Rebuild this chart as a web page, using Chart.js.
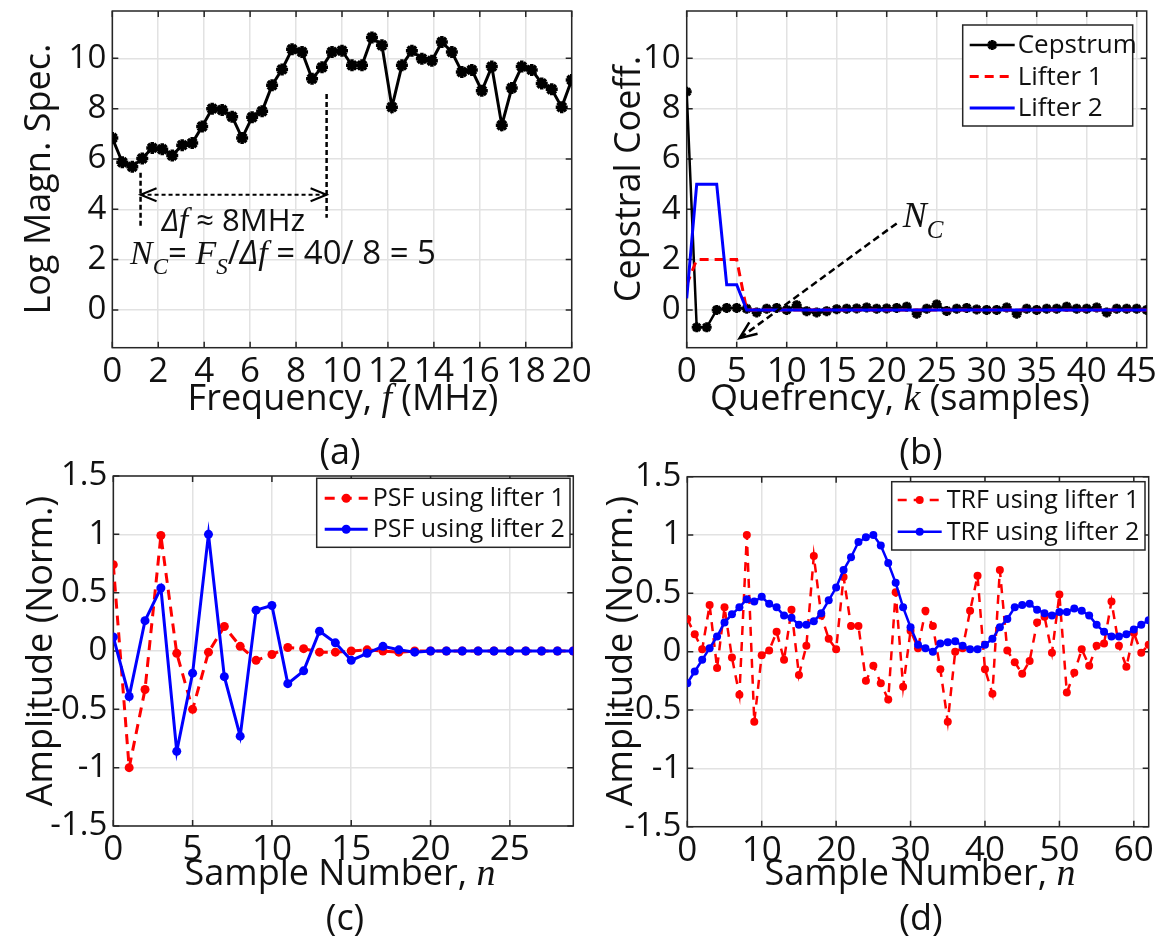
<!DOCTYPE html>
<html>
<head>
<meta charset="utf-8">
<script src="https://cdn.jsdelivr.net/npm/chart.js@4/dist/chart.umd.min.js"></script>
<style>
html, body { margin: 0; padding: 0; background: #fff; overflow: hidden; }
#fig { position: relative; width: 1165px; height: 939px; overflow: hidden; background: #fff; }
#fig canvas { position: absolute; }
</style>
</head>
<body>
<div id="fig">
  <canvas id="chartA" width="600" height="520" style="left:0px;top:-40px"></canvas>
  <canvas id="chartB" width="585" height="520" style="left:580px;top:-40px"></canvas>
  <canvas id="chartC" width="600" height="509" style="left:0px;top:430px"></canvas>
  <canvas id="chartD" width="585" height="509" style="left:580px;top:430px"></canvas>
</div>
<script>
// ---------------- data
// (a) log magnitude spectrum
const freqMHz = [0, 0.435, 0.870, 1.304, 1.739, 2.174, 2.609, 3.043, 3.478, 3.913, 4.348, 4.783, 5.217, 5.652, 6.087, 6.522,
  6.957, 7.391, 7.826, 8.261, 8.696, 9.130, 9.565, 10.0, 10.435, 10.870, 11.304, 11.739, 12.174, 12.609, 13.043, 13.478,
  13.913, 14.348, 14.783, 15.217, 15.652, 16.087, 16.522, 16.957, 17.391, 17.826, 18.261, 18.696, 19.130, 19.565, 20.0]
const logMagSpec = [6.83, 5.87, 5.69, 6.02, 6.44, 6.39, 6.14, 6.55, 6.63, 7.29, 8.0, 7.95, 7.68, 6.83, 7.66, 7.90,
  8.93, 9.56, 10.36, 10.25, 9.19, 9.64, 10.25, 10.3, 9.72, 9.72, 10.83, 10.52, 8.06, 9.72, 10.3, 9.98,
  9.9, 10.65, 10.25, 9.46, 9.54, 8.71, 9.67, 7.34, 8.82, 9.67, 9.54, 9.0, 8.77, 8.06, 9.14]

// (b) cepstrum and lifters, quefrency k = 0..46
const cepstrum = [8.67, -0.69, -0.69, 0.0, 0.08, 0.08, 0.05, -0.1, 0.05, 0.08, 0.0, 0.19, -0.05, -0.1, -0.05, 0.03,
  0.05, 0.06, 0.1, 0.05, 0.06, 0.08, 0.13, -0.15, 0.05, 0.22, -0.04, 0.05, 0.08, 0.02, 0.0, 0.0,
  0.1, -0.15, 0.05, 0.0, 0.05, 0.05, 0.13, 0.05, 0.05, 0.1, -0.1, 0.05, 0.05, 0.05, 0.0]
const lifter1 = [1, 2, 2, 2, 2, 2, 0, 0, 0, 0, 0, 0, 0, 0, 0, 0, 0, 0, 0, 0, 0, 0, 0, 0,
  0, 0, 0, 0, 0, 0, 0, 0, 0, 0, 0, 0, 0, 0, 0, 0, 0, 0, 0, 0, 0, 0, 0]
const lifter2 = [0.46, 5, 5, 5, 1, 1, 0, 0, 0, 0, 0, 0, 0, 0, 0, 0, 0, 0, 0, 0, 0, 0, 0, 0,
  0, 0, 0, 0, 0, 0, 0, 0, 0, 0, 0, 0, 0, 0, 0, 0, 0, 0, 0, 0, 0, 0, 0]

// (c) PSF, n = 0..29
const psfLifter1 = [0.74, -1.0, -0.33, 0.99, -0.02, -0.5, -0.01, 0.21, 0.04, -0.08, -0.03, 0.03, 0.02, -0.01, -0.01,
  0.0, 0.01, 0.0, -0.01, 0.0, 0, 0, 0, 0, 0, 0, 0, 0, 0, 0]
const psfLifter2 = [0.12, -0.39, 0.26, 0.54, -0.86, -0.19, 1.0, -0.22, -0.73, 0.35, 0.39, -0.28, -0.17, 0.17, 0.07,
  -0.08, -0.02, 0.04, 0.01, -0.01, 0, 0, 0, 0, 0, 0, 0, 0, 0, 0]

// (d) TRF, n = 0..62
const trfLifter1 = [0.28, 0.15, 0.02, 0.40, -0.14, 0.38, -0.05, -0.37, 1.0, -0.60, -0.03, 0.01, 0.17, -0.07, 0.36, -0.20,
  0.05, 0.82, 0.31, 0.11, 0.02, 0.64, 0.22, 0.22, -0.25, -0.12, -0.27, -0.41, 0.51, -0.30, 0.18, 0.03,
  0.35, 0.22, -0.15, -0.60, 0.0, 0.03, 0.35, 0.65, -0.15, -0.36, 0.70, 0.01, -0.09, -0.19, -0.08, 0.25,
  0.30, -0.01, 0.49, -0.35, -0.18, 0.02, -0.12, 0.05, 0.07, 0.43, 0.05, -0.13, 0.16, -0.01, 0.06]
const trfLifter2 = [-0.27, -0.17, -0.07, 0.03, 0.13, 0.25, 0.32, 0.38, 0.45, 0.43, 0.47, 0.41, 0.38, 0.31, 0.29, 0.23,
  0.23, 0.26, 0.33, 0.44, 0.55, 0.70, 0.81, 0.94, 0.98, 1.0, 0.91, 0.76, 0.59, 0.38, 0.21, 0.06,
  0.03, 0.0, 0.07, 0.08, 0.09, 0.05, 0.02, 0.02, 0.06, 0.11, 0.21, 0.28, 0.38, 0.40, 0.41, 0.36,
  0.33, 0.31, 0.34, 0.34, 0.37, 0.35, 0.31, 0.23, 0.17, 0.13, 0.13, 0.15, 0.19, 0.23, 0.27]

// tick values
const freqTicks = [0, 2, 4, 6, 8, 10, 12, 14, 16, 18, 20]
const magTicks = [0, 2, 4, 6, 8, 10]
const quefTicks = [0, 5, 10, 15, 20, 25, 30, 35, 40, 45]
const cepTicks = [0, 2, 4, 6, 8, 10]
const psfTicks = [0, 5, 10, 15, 20, 25]
const trfTicks = [0, 10, 20, 30, 40, 50, 60]
const ampTicks = [-1.5, -1, -0.5, 0, 0.5, 1, 1.5]

// ---------------- styles
const FONT = '"Open Sans", Lato, sans-serif'
const SERIF = '"Liberation Serif", "DejaVu Serif", serif'
const INK = '#111'
const AXIS = '#262626'
const GRID = '#e2e2e2'
const RED = '#ff0000'
const BLUE = '#0000ff'

Chart.defaults.font.family = FONT
Chart.defaults.color = INK

// text segments: sans, serif italic, sans italic, subscript
const sans = (t, size) => ({ t, font: size + 'px ' + FONT })
const ital = (t, size) => ({ t, font: 'italic ' + size + 'px ' + SERIF })
const italSans = (t, size) => ({ t, font: 'italic ' + size + 'px ' + FONT })
const sub = (t, size) => ({ t, font: 'italic ' + size + 'px ' + SERIF, dy: size * 0.45 })

const drawRich = (ctx, segs, x, y, align, rot) => {
    ctx.save()
    ctx.translate(x, y)
    if (rot) ctx.rotate(rot)
    let total = 0
    segs.forEach(s => { ctx.font = s.font; s.w = ctx.measureText(s.t).width; total += s.w })
    let cx = align === 'left' ? 0 : -total / 2
    ctx.fillStyle = INK
    ctx.textAlign = 'left'
    ctx.textBaseline = 'alphabetic'
    segs.forEach(s => {
        ctx.font = s.font
        ctx.fillText(s.t, cx, s.dy || 0)
        cx += s.w
    })
    ctx.restore()
}

const chevron = (ctx, tx, ty, fx, fy, len, half) => {
    // open arrow head at (tx,ty), pointing away from (fx,fy)
    const a = Math.atan2(ty - fy, tx - fx)
    ctx.save()
    ctx.setLineDash([])
    ctx.beginPath()
    ctx.moveTo(tx - len * Math.cos(a) - half * Math.sin(a), ty - len * Math.sin(a) + half * Math.cos(a))
    ctx.lineTo(tx, ty)
    ctx.lineTo(tx - len * Math.cos(a) + half * Math.sin(a), ty - len * Math.sin(a) - half * Math.cos(a))
    ctx.stroke()
    ctx.restore()
}

// box, inner ticks, legends, titles
const decorPlugin = {
    id: 'decor',
    beforeDatasetsDraw(chart, args, o) {
        const { ctx, chartArea: a, scales } = chart
        ctx.save()
        ctx.strokeStyle = AXIS
        ctx.lineWidth = 1.5
        ctx.beginPath()
        scales.x.ticks.forEach(t => {
            const p = scales.x.getPixelForValue(t.value)
            ctx.moveTo(p, a.bottom); ctx.lineTo(p, a.bottom - 6)
            ctx.moveTo(p, a.top); ctx.lineTo(p, a.top + 6)
        })
        scales.y.ticks.forEach(t => {
            const p = scales.y.getPixelForValue(t.value)
            ctx.moveTo(a.left, p); ctx.lineTo(a.left + 6, p)
            ctx.moveTo(a.right, p); ctx.lineTo(a.right - 6, p)
        })
        ctx.stroke()
        ctx.strokeRect(a.left, a.top, a.right - a.left, a.bottom - a.top)
        ctx.restore()
    },
    afterDatasetsDraw(chart, args, o) {
        const { ctx } = chart
        const [ox, oy] = o.offset
        if (o.annotate) o.annotate(chart)
        const lg = o.legend
        if (lg) {
            const x = lg.x - ox, y = lg.y - oy
            ctx.save()
            ctx.fillStyle = '#fff'
            ctx.fillRect(x, y, lg.w, lg.h)
            ctx.strokeStyle = AXIS
            ctx.lineWidth = 1.5
            ctx.strokeRect(x, y, lg.w, lg.h)
            lg.order.forEach((di, i) => {
                const ds = chart.data.datasets[di]
                const cy = y + lg.first + i * lg.step
                ctx.strokeStyle = ds.borderColor
                ctx.lineWidth = ds.borderWidth
                ctx.setLineDash(ds.borderDash || [])
                ctx.beginPath()
                ctx.moveTo(x + lg.x0, cy)
                ctx.lineTo(x + lg.x1, cy)
                ctx.stroke()
                ctx.setLineDash([])
                if (ds.pointRadius > 0) {
                    ctx.fillStyle = ds.pointBackgroundColor
                    ctx.strokeStyle = ds.pointBorderColor
                    ctx.lineWidth = ds.pointBorderWidth
                    Chart.helpers.drawPoint(ctx, { pointStyle: ds.pointStyle, radius: ds.pointRadius, borderWidth: ds.pointBorderWidth, rotation: 0 }, x + (lg.x0 + lg.x1) / 2, cy)
                }
                ctx.fillStyle = INK
                ctx.font = lg.size + 'px ' + FONT
                ctx.textAlign = 'left'
                ctx.textBaseline = 'middle'
                ctx.fillText(ds.label, x + lg.tx, cy + 1)
            })
            ctx.restore()
        }
    },
    afterDraw(chart, args, o) {
        const { ctx } = chart
        const [ox, oy] = o.offset
        drawRich(ctx, o.xTitle, o.xTitlePos[0] - ox, o.xTitlePos[1] - oy, 'center')
        drawRich(ctx, o.yTitle, o.yTitlePos[0] - ox, o.yTitlePos[1] - oy, 'center', -Math.PI / 2)
        drawRich(ctx, [sans(o.tag, 36)], o.tagPos[0] - ox, o.tagPos[1] - oy, 'center')
    }
}

// ---------------- helpers for axes
const TITLE = 36
const XT = 35
const YT = 33

const makeChart = (p) => {
    const el = document.getElementById(p.id)
    const [L, T, R, B] = p.area
    const xH = p.top + p.h - B
    const yW = L - p.left
    return new Chart(el.getContext('2d'), {
        type: 'line',
        data: { datasets: p.datasets },
        options: {
            responsive: false,
            animation: false,
            layout: { padding: { top: T - p.top, right: p.left + p.w - R, left: 0, bottom: 0 } },
            plugins: {
                legend: { display: false },
                tooltip: { enabled: false },
                decor: {
                    offset: [p.left, p.top],
                    xTitle: p.xTitle, xTitlePos: p.xTitlePos,
                    yTitle: p.yTitle, yTitlePos: p.yTitlePos,
                    tag: p.tag, tagPos: p.tagPos,
                    legend: p.legend, annotate: p.annotate
                }
            },
            scales: {
                x: {
                    type: 'linear', min: p.xRange[0], max: p.xRange[1],
                    afterBuildTicks: s => { s.ticks = p.xTicks.map(v => ({ value: v })) },
                    afterFit: s => { s.height = xH },
                    grid: { color: GRID, lineWidth: 1.5, drawTicks: false },
                    border: { display: false },
                    ticks: { autoSkip: false, maxRotation: 0, padding: 7, color: INK, font: { size: XT, lineHeight: 1 }, callback: v => String(v) }
                },
                y: {
                    type: 'linear', min: p.yRange[0], max: p.yRange[1],
                    afterBuildTicks: s => { s.ticks = p.yTicks.map(v => ({ value: v })) },
                    afterFit: s => { s.width = yW },
                    grid: { color: GRID, lineWidth: 1.5, drawTicks: false },
                    border: { display: false },
                    ticks: { padding: 6, color: INK, font: { size: YT, lineHeight: 1 }, callback: v => String(v) }
                }
            }
        },
        plugins: [decorPlugin]
    })
}

const xy = (xs, ys) => ys.map((v, i) => ({ x: xs ? xs[i] : i, y: v }))

// ---------------- (a)
makeChart({
    id: 'chartA', left: 0, top: -40, w: 600, h: 520,
    area: [112.3, 11, 571.7, 347.7],
    xRange: [0, 20], yRange: [-1.5, 11.88], xTicks: freqTicks, yTicks: magTicks,
    datasets: [{
        label: 'Spectrum', data: xy(freqMHz, logMagSpec),
        borderColor: '#000', borderWidth: 3, pointStyle: 'star', pointRadius: 6,
        pointBorderWidth: 3.5, pointBorderColor: '#000', pointBackgroundColor: '#000'
    }],
    xTitle: [sans('Frequency, ', TITLE), ital('f', TITLE + 2), sans(' (MHz)', TITLE)], xTitlePos: [343, 410],
    yTitle: [sans('Log Magn. Spec.', TITLE)], yTitlePos: [50, 179],
    tag: '(a)', tagPos: [340, 464],
    annotate: (chart) => {
        const { ctx, scales } = chart
        const px = v => scales.x.getPixelForValue(v)
        const py = v => scales.y.getPixelForValue(v)
        ctx.save()
        ctx.strokeStyle = '#000'
        ctx.lineWidth = 2.5
        ctx.setLineDash([5, 3])
        ctx.beginPath()
        ctx.moveTo(px(1.23), py(5.45)); ctx.lineTo(px(1.23), py(3.3))
        ctx.moveTo(px(9.33), py(8.58)); ctx.lineTo(px(9.33), py(3.66))
        ctx.stroke()
        ctx.setLineDash([4, 3])
        ctx.lineWidth = 2
        ctx.beginPath()
        ctx.moveTo(px(1.23), py(4.58)); ctx.lineTo(px(9.33), py(4.58))
        ctx.stroke()
        chevron(ctx, px(1.23), py(4.58), px(9.33), py(4.58), 16, 6.5)
        chevron(ctx, px(9.33), py(4.58), px(1.23), py(4.58), 16, 6.5)
        ctx.restore()
        drawRich(ctx, [italSans('Δ', 31), ital('f', 33), sans(' ≈ 8MHz', 31)], px(2.15), py(3.12), 'left')
        drawRich(ctx, [ital('N', 34), sub('C', 23), sans('= ', 33), ital('F', 34), sub('S', 23), sans('/', 33),
            italSans('Δ', 33), ital('f', 34), sans(' = 40/ 8 = 5', 33)], px(0.77), py(1.83), 'left')
    }
})

// ---------------- (b)
makeChart({
    id: 'chartB', left: 580, top: -40, w: 585, h: 520,
    area: [686.7, 11, 1146.7, 347.7],
    xRange: [0, 46], yRange: [-1.5, 11.88], xTicks: quefTicks, yTicks: cepTicks,
    datasets: [
        { label: 'Lifter 2', data: xy(null, lifter2), borderColor: BLUE, borderWidth: 3, pointRadius: 0 },
        { label: 'Lifter 1', data: xy(null, lifter1), borderColor: RED, borderWidth: 3, borderDash: [9, 6], pointRadius: 0 },
        {
            label: 'Cepstrum', data: xy(null, cepstrum), borderColor: '#000', borderWidth: 2.5,
            pointStyle: 'star', pointRadius: 5, pointBorderWidth: 3, pointBorderColor: '#000', pointBackgroundColor: '#000'
        }
    ],
    legend: { x: 962.7, y: 25, w: 170, h: 101, first: 20, step: 31.5, x0: 7, x1: 52, tx: 55, size: 26, order: [2, 1, 0] },
    xTitle: [sans('Quefrency, ', TITLE), ital('k', TITLE + 2), sans(' (samples)', TITLE)], xTitlePos: [900, 410],
    yTitle: [sans('Cepstral Coeff.', TITLE)], yTitlePos: [640, 179],
    tag: '(b)', tagPos: [921, 464],
    annotate: (chart) => {
        const { ctx, scales } = chart
        const px = v => scales.x.getPixelForValue(v)
        const py = v => scales.y.getPixelForValue(v)
        ctx.save()
        ctx.strokeStyle = '#000'
        ctx.lineWidth = 2.5
        ctx.setLineDash([7, 4])
        ctx.beginPath()
        ctx.moveTo(px(21), py(3.44)); ctx.lineTo(px(5.3), py(-1.12))
        ctx.stroke()
        chevron(ctx, px(5.3), py(-1.12), px(21), py(3.44), 17, 7)
        ctx.restore()
        drawRich(ctx, [ital('N', 36), sub('C', 25)], px(21.6), py(3.29), 'left')
    }
})

// ---------------- (c)
makeChart({
    id: 'chartC', left: 0, top: 430, w: 600, h: 509,
    area: [113.3, 476, 573.3, 826],
    xRange: [0, 29], yRange: [-1.5, 1.5], xTicks: psfTicks, yTicks: ampTicks,
    datasets: [
        {
            label: 'PSF using lifter 2', data: xy(null, psfLifter2), borderColor: BLUE, borderWidth: 3,
            pointStyle: 'circle', pointRadius: 4.5, pointBorderWidth: 0, pointBackgroundColor: BLUE, pointBorderColor: BLUE
        },
        {
            label: 'PSF using lifter 1', data: xy(null, psfLifter1), borderColor: RED, borderWidth: 3, borderDash: [10, 7],
            pointStyle: 'circle', pointRadius: 4.5, pointBorderWidth: 0, pointBackgroundColor: RED, pointBorderColor: RED
        }
    ],
    legend: { x: 316.7, y: 478.3, w: 253.3, h: 69, first: 20, step: 31, x0: 8, x1: 51, tx: 56, size: 25, order: [1, 0] },
    xTitle: [sans('Sample Number, ', TITLE), ital('n', TITLE + 2)], xTitlePos: [340, 885],
    yTitle: [sans('Amplitude (Norm.)', TITLE)], yTitlePos: [52, 651],
    tag: '(c)', tagPos: [345, 930]
})

// ---------------- (d)
makeChart({
    id: 'chartD', left: 580, top: 430, w: 585, h: 509,
    area: [687.3, 476.7, 1148.7, 826.7],
    xRange: [0, 62], yRange: [-1.5, 1.5], xTicks: trfTicks, yTicks: ampTicks,
    datasets: [
        {
            label: 'TRF using lifter 2', data: xy(null, trfLifter2), borderColor: BLUE, borderWidth: 2.5,
            pointStyle: 'circle', pointRadius: 4, pointBorderWidth: 0, pointBackgroundColor: BLUE, pointBorderColor: BLUE
        },
        {
            label: 'TRF using lifter 1', data: xy(null, trfLifter1), borderColor: RED, borderWidth: 2.5, borderDash: [9, 7],
            pointStyle: 'circle', pointRadius: 4, pointBorderWidth: 0, pointBackgroundColor: RED, pointBorderColor: RED
        }
    ],
    legend: { x: 891.7, y: 481.7, w: 253.3, h: 68.3, first: 18.3, step: 31.7, x0: 6, x1: 50, tx: 55, size: 25, order: [1, 0] },
    xTitle: [sans('Sample Number, ', TITLE), ital('n', TITLE + 2)], xTitlePos: [920, 885],
    yTitle: [sans('Amplitude (Norm.)', TITLE)], yTitlePos: [632, 651],
    tag: '(d)', tagPos: [921, 930]
})
</script>
</body>
</html>
